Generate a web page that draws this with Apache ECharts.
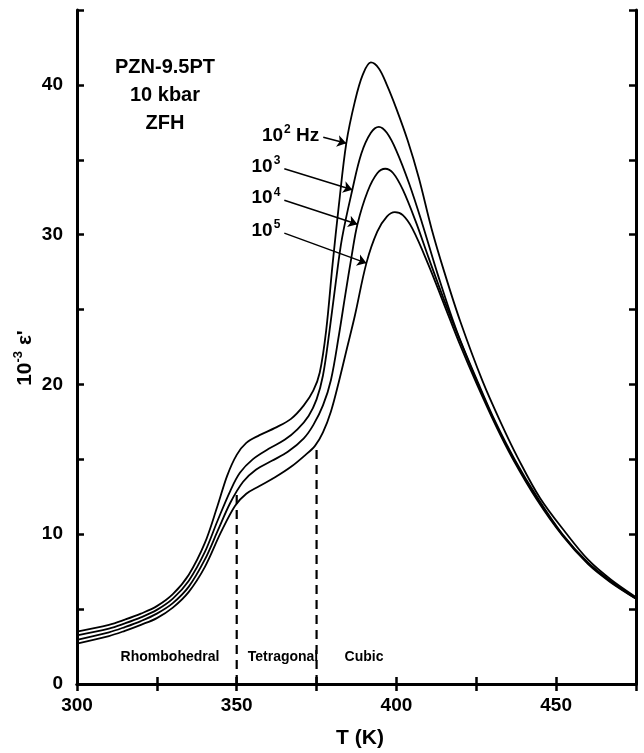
<!DOCTYPE html>
<html>
<head>
<meta charset="utf-8">
<script src="https://cdn.jsdelivr.net/npm/echarts@6/dist/echarts.min.js"></script>
<style>
  html, body { margin: 0; padding: 0; background: #fff; }
  #chart { width: 644px; height: 753px; }
</style>
</head>
<body>
<div id="chart"></div>
<script>
// T (K), 10^-3 eps', one list per frequency
var hz1e2 = [[300,3.5],[310,3.95],[315,4.3],[320,4.7],[325,5.2],[330,6.0],[335,7.3],[340,9.4],[344,11.9],[347,13.9],[350,15.3],[353,16.1],[357,16.6],[362,17.1],[367,17.7],[371,18.6],[374,19.6],[376,20.8],[378,23.6],[380,28.0],[382,32.0],[384.3,36.1],[387,38.9],[389.5,40.7],[392,41.5],[394.5,41.1],[397,40.0],[400,38.4],[403.5,36.3],[407,33.8],[411,30.4],[415,27.5],[420,24.2],[427,20.2],[433,17.3],[438,15.1],[445,12.4],[453,10.1],[460,8.3],[467,7.0],[475,5.8]];
var hz1e3 = [[300,3.25],[310,3.7],[315,4.05],[320,4.45],[325,4.95],[330,5.7],[335,6.9],[340,8.8],[344,10.9],[348,12.9],[351,14.1],[355,15.0],[360,15.7],[365,16.3],[369,17.0],[372.5,17.9],[375,19.0],[377,20.6],[379,23.5],[381,26.8],[383,29.8],[386.2,33.0],[389,35.4],[392,36.8],[394.5,37.2],[397,36.8],[400,35.6],[404,33.4],[408,30.8],[413,27.3],[419,23.5],[426,19.9],[431,17.5],[437,15.0],[444,12.5],[452,10.0],[460,8.1],[467,6.9],[475,5.75]];
var hz1e4 = [[300,2.95],[310,3.45],[315,3.8],[320,4.2],[325,4.7],[330,5.4],[335,6.5],[340,8.3],[344,10.2],[348,12.1],[352,13.5],[356,14.3],[361,14.9],[366,15.5],[371,16.4],[374,17.3],[377,18.6],[379.5,20.3],[382,23.3],[384,26.0],[386,28.6],[387.8,30.7],[391,32.9],[394,34.1],[396.5,34.4],[399,34.1],[402,33.0],[406,30.9],[410,28.5],[415,25.6],[420,22.9],[425,20.3],[431,17.4],[437,14.9],[444,12.4],[452,9.95],[460,8.05],[467,6.85],[475,5.7]];
var hz1e5 = [[300,2.7],[310,3.2],[315,3.55],[320,3.95],[325,4.4],[330,5.1],[335,6.15],[340,7.8],[345,10.1],[349.5,11.9],[353,12.7],[357,13.2],[362,13.8],[367,14.5],[371,15.2],[374.5,15.9],[377,16.8],[379.5,18.2],[382,20.2],[384.5,22.4],[387,24.6],[390.6,28.1],[394,30.2],[397,31.2],[399.5,31.5],[402,31.3],[405,30.4],[410,28.0],[415,25.3],[420,22.6],[425,20.1],[431,17.3],[436.5,15.0],[444,12.3],[452,9.9],[460,8.0],[467,6.8],[475,5.7]];

// phase boundaries (dashed), and how high each dash goes
var phaseT = [350, 375];
var phaseTop = [12.8, 15.7];
var phaseNames = ['Rhombohedral', 'Tetragonal', 'Cubic'];

// arrows from the frequency labels to the curves: [T0, y0, T1, y1]
var arrows = [
    [377.1, 36.5, 384.3, 36.1],
    [364.9, 34.4, 386.2, 33.0],
    [364.9, 32.3, 387.8, 30.7],
    [364.9, 30.1, 390.6, 28.1]
];
var freqLabels = [['10', '2', ' Hz'], ['10', '3', ''], ['10', '4', ''], ['10', '5', '']];

var font = '"Liberation Sans", Arial, sans-serif';
var black = '#000';

var curves = [hz1e2, hz1e3, hz1e4, hz1e5];
var series = [];
curves.forEach(function (c, i) {
    series.push({
        name: 'f' + i,
        type: 'line',
        data: c,
        smooth: 0.35,
        showSymbol: false,
        lineStyle: { color: black, width: 1.8 },
        z: 3
    });
});
phaseT.forEach(function (t, i) {
    series.push({
        type: 'line',
        data: [[t, 0], [t, phaseTop[i]]],
        showSymbol: false,
        lineStyle: { color: black, width: 2.2, type: [9, 6] },
        z: 2
    });
});
series.push({
    type: 'lines',
    coordinateSystem: 'cartesian2d',
    symbol: ['none', 'arrow'],
    symbolSize: [0, 9],
    lineStyle: { color: black, width: 1.5, opacity: 1 },
    data: arrows.map(function (a) { return { coords: [[a[0], a[1]], [a[2], a[3]]] }; }),
    z: 4
});

var axisLine = { show: true, lineStyle: { color: black, width: 3 } };
var tickLabel = { color: black, fontFamily: font, fontWeight: 'bold', fontSize: 19 };

var option = {
    animation: false,
    backgroundColor: '#fff',
    grid: { left: 77, right: 8, top: 10, bottom: 69 },
    xAxis: [
        {
            type: 'value', min: 300, max: 475, interval: 25, position: 'bottom',
            axisLine: axisLine,
            axisTick: { inside: true, length: 7, lineStyle: { color: black, width: 2.5 } },
            axisLabel: Object.assign({ margin: 12, formatter: function (v) { return v % 50 === 0 ? v : ''; } }, tickLabel),
            splitLine: { show: false }
        },
        {
            type: 'value', min: 300, max: 475, interval: 25, position: 'top',
            axisLine: axisLine,
            axisTick: { inside: true, length: 7, lineStyle: { color: black, width: 2.5 } },
            axisLabel: { show: false },
            splitLine: { show: false }
        }
    ],
    yAxis: [
        {
            type: 'value', min: 0, max: 45, interval: 5, position: 'left',
            axisLine: axisLine,
            axisTick: { inside: true, length: 7, lineStyle: { color: black, width: 2.5 } },
            axisLabel: Object.assign({ margin: 14, formatter: function (v) { return v % 10 === 0 ? v : ''; } }, tickLabel),
            splitLine: { show: false }
        },
        {
            type: 'value', min: 0, max: 45, interval: 5, position: 'right',
            axisLine: axisLine,
            axisTick: { inside: true, length: 7, lineStyle: { color: black, width: 2.5 } },
            axisLabel: { show: false },
            splitLine: { show: false }
        }
    ],
    series: series
};

var chart = echarts.init(document.getElementById('chart'), null, { renderer: 'canvas' });
chart.setOption(option);

// text annotations
var supRich = {
    b: { fontFamily: font, fontWeight: 'bold', fontSize: 19, color: black, lineHeight: 24 },
    s: { fontFamily: font, fontWeight: 'bold', fontSize: 12, color: black, verticalAlign: 'top', lineHeight: 24, padding: [0, 0, 0, 1] }
};
var g = [];
['PZN-9.5PT', '10 kbar', 'ZFH'].forEach(function (t, i) {
    g.push({
        type: 'text', x: 165, y: 67 + i * 28,
        style: { text: t, fill: black, font: 'bold 20px ' + font, align: 'center', verticalAlign: 'middle' }
    });
});
freqLabels.forEach(function (f, i) {
    var p = chart.convertToPixel({ gridIndex: 0 }, [arrows[i][0], arrows[i][1]]);
    g.push({
        type: 'text', x: p[0] - 4, y: p[1] - 2,
        style: {
            text: '{b|' + f[0] + '}{s|' + f[1] + '}' + (f[2] ? '{b|' + f[2] + '}' : ''),
            rich: supRich, align: 'right', verticalAlign: 'middle'
        }
    });
});
var regionX = [170, 283, 364];
phaseNames.forEach(function (n, i) {
    g.push({
        type: 'text', x: regionX[i], y: 657,
        style: { text: n, fill: black, font: 'bold 14px ' + font, align: 'center', verticalAlign: 'middle' }
    });
});
g.push({
    type: 'text', x: 360, y: 738,
    style: { text: 'T (K)', fill: black, font: 'bold 21px ' + font, align: 'center', verticalAlign: 'middle' }
});
g.push({
    type: 'text', x: 25, y: 358, rotation: Math.PI / 2,
    style: {
        text: '{b|10}{s|-3}{b| ε\'}',
        rich: {
            b: { fontFamily: font, fontWeight: 'bold', fontSize: 21, color: black, lineHeight: 26 },
            s: { fontFamily: font, fontWeight: 'bold', fontSize: 13, color: black, verticalAlign: 'top', lineHeight: 26 }
        },
        align: 'center', verticalAlign: 'middle'
    }
});
chart.setOption({ graphic: g });
</script>
</body>
</html>
